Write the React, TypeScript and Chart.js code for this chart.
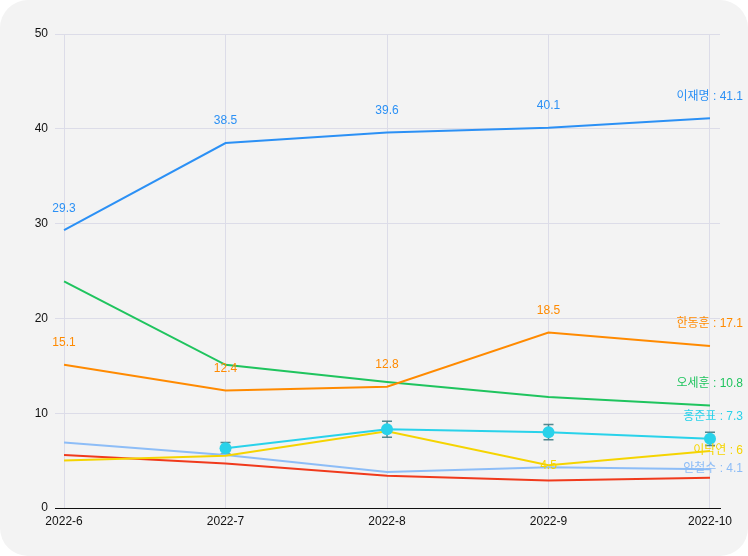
import React, { useEffect, useRef } from "react";
import { Chart, registerables } from "chart.js";

Chart.register(...registerables);

const categories = ["2022-6", "2022-7", "2022-8", "2022-9", "2022-10"];
const yTicks = [0, 10, 20, 30, 40, 50];

const leeJM = [29.3, 38.5, 39.6, 40.1, 41.1];
const hanDH = [15.1, 12.4, 12.8, 18.5, 17.1];
const ohSH = [23.9, 15.1, 13.3, 11.7, 10.8];
const hongJP = [null, 6.3, 8.3, 8.0, 7.3];
const hongErr = [null, 0.6, 0.85, 0.8, 0.7];
const leeNY = [5.0, 5.5, 8.1, 4.5, 6.0];
const ahnCS = [6.9, 5.6, 3.8, 4.3, 4.1];
const redSeries = [5.6, 4.7, 3.4, 2.9, 3.2];

const FONT = "'Liberation Sans', Arial, 'Noto Sans CJK KR', sans-serif";

type SeriesDef = {
  name: string;
  values: (number | null)[];
  color: string;
  valueLabels: number[];
  valueOffsets?: Record<number, number>;
  endLabel: boolean;
  endOffset: number;
  points?: boolean;
};

const series: SeriesDef[] = [
  { name: "이재명", values: leeJM, color: "#2b90f5", valueLabels: [0, 1, 2, 3], endLabel: true, endOffset: 22 },
  { name: "한동훈", values: hanDH, color: "#ff8a00", valueLabels: [0, 1, 2, 3], endLabel: true, endOffset: 22 },
  { name: "오세훈", values: ohSH, color: "#1fc45e", valueLabels: [], endLabel: true, endOffset: 22 },
  { name: "홍준표", values: hongJP, color: "#29d2ea", valueLabels: [], endLabel: true, endOffset: 22, points: true },
  { name: "이낙연", values: leeNY, color: "#f5d400", valueLabels: [3], valueOffsets: { 3: 0 }, endLabel: true, endOffset: 0 },
  { name: "안철수", values: ahnCS, color: "#8dbdf7", valueLabels: [], endLabel: true, endOffset: 0 },
  { name: "기타", values: redSeries, color: "#f03a1c", valueLabels: [], endLabel: false, endOffset: 0 },
];

const bgPlugin = {
  id: "bg",
  beforeDraw(chart: any) {
    const { ctx, width, height } = chart;
    const r = 28;
    ctx.save();
    ctx.fillStyle = "#f3f3f3";
    ctx.beginPath();
    ctx.moveTo(r, 0);
    ctx.lineTo(width - r, 0);
    ctx.arcTo(width, 0, width, r, r);
    ctx.lineTo(width, height - r);
    ctx.arcTo(width, height, width - r, height, r);
    ctx.lineTo(r, height);
    ctx.arcTo(0, height, 0, height - r, r);
    ctx.lineTo(0, r);
    ctx.arcTo(0, 0, r, 0, r);
    ctx.closePath();
    ctx.fill();
    ctx.restore();
  },
};

const errPlugin = {
  id: "errbars",
  beforeDatasetsDraw(chart: any) {
    const { ctx } = chart;
    const xs = chart.scales.x;
    const ys = chart.scales.y;
    ctx.save();
    ctx.strokeStyle = "rgba(30,100,110,0.75)";
    ctx.lineWidth = 1.5;
    hongJP.forEach((v, i) => {
      const e = hongErr[i];
      if (v == null || e == null) return;
      const x = xs.getPixelForValue(i);
      const y1 = ys.getPixelForValue(v + e);
      const y2 = ys.getPixelForValue(v - e);
      ctx.beginPath();
      ctx.moveTo(x, y1);
      ctx.lineTo(x, y2);
      ctx.moveTo(x - 5, y1);
      ctx.lineTo(x + 5, y1);
      ctx.moveTo(x - 5, y2);
      ctx.lineTo(x + 5, y2);
      ctx.stroke();
    });
    ctx.restore();
  },
};

const labelPlugin = {
  id: "labels",
  afterDatasetsDraw(chart: any) {
    const { ctx, width } = chart;
    const xs = chart.scales.x;
    const ys = chart.scales.y;
    ctx.save();
    ctx.font = `12px ${FONT}`;
    ctx.textBaseline = "middle";
    series.forEach((s) => {
      ctx.fillStyle = s.color;
      ctx.textAlign = "center";
      s.valueLabels.forEach((i) => {
        const v = s.values[i];
        if (v == null) return;
        const off = s.valueOffsets && s.valueOffsets[i] != null ? s.valueOffsets[i] : 22;
        ctx.fillText(String(v), xs.getPixelForValue(i), ys.getPixelForValue(v) - off);
      });
      if (s.endLabel) {
        const last = s.values.length - 1;
        const v = s.values[last] as number;
        ctx.textAlign = "right";
        ctx.fillText(`${s.name} : ${v}`, width - 5, ys.getPixelForValue(v) - s.endOffset);
      }
    });
    ctx.restore();
  },
};

export default function App() {
  const ref = useRef<HTMLCanvasElement>(null);
  useEffect(() => {
    document.body.style.margin = "0";
    const chart = new Chart(ref.current as HTMLCanvasElement, {
      type: "line",
      data: {
        datasets: series.map((s) => ({
          label: s.name,
          data: s.values.map((v, i) => ({ x: i, y: v })),
          borderColor: s.color,
          backgroundColor: s.color,
          borderWidth: 2,
          pointRadius: s.points ? 6 : 0,
          pointHoverRadius: s.points ? 6 : 0,
          pointBorderWidth: 0,
          tension: 0,
          spanGaps: false,
        })) as any,
      },
      options: {
        responsive: false,
        animation: false,
        layout: { padding: { top: 34, right: 28, left: 0, bottom: 0 } },
        plugins: { legend: { display: false }, tooltip: { enabled: false } },
        scales: {
          x: {
            type: "linear",
            min: -0.056,
            max: 4.062,
            afterBuildTicks(axis: any) {
              axis.ticks = categories.map((_, i) => ({ value: i }));
            },
            afterFit(axis: any) {
              axis.height = 48;
            },
            ticks: {
              autoSkip: false,
              maxRotation: 0,
              padding: 6,
              color: "#111",
              font: { size: 12, family: FONT },
              callback: (v: any) => categories[v] ?? "",
            },
            grid: { color: "#dcdce8", drawTicks: false },
            border: { color: "#111", width: 1 },
          },
          y: {
            type: "linear",
            min: 0,
            max: 50,
            afterBuildTicks(axis: any) {
              axis.ticks = yTicks.map((v) => ({ value: v }));
            },
            afterFit(axis: any) {
              axis.width = 55;
            },
            ticks: {
              padding: 7,
              color: "#111",
              font: { size: 12, family: FONT },
            },
            grid: { color: "#dcdce8", drawTicks: false },
            border: { display: false },
          },
        },
      },
      plugins: [bgPlugin, errPlugin, labelPlugin],
    });
    return () => chart.destroy();
  }, []);
  return <canvas ref={ref} width={748} height={556} style={{ display: "block" }} />;
}
